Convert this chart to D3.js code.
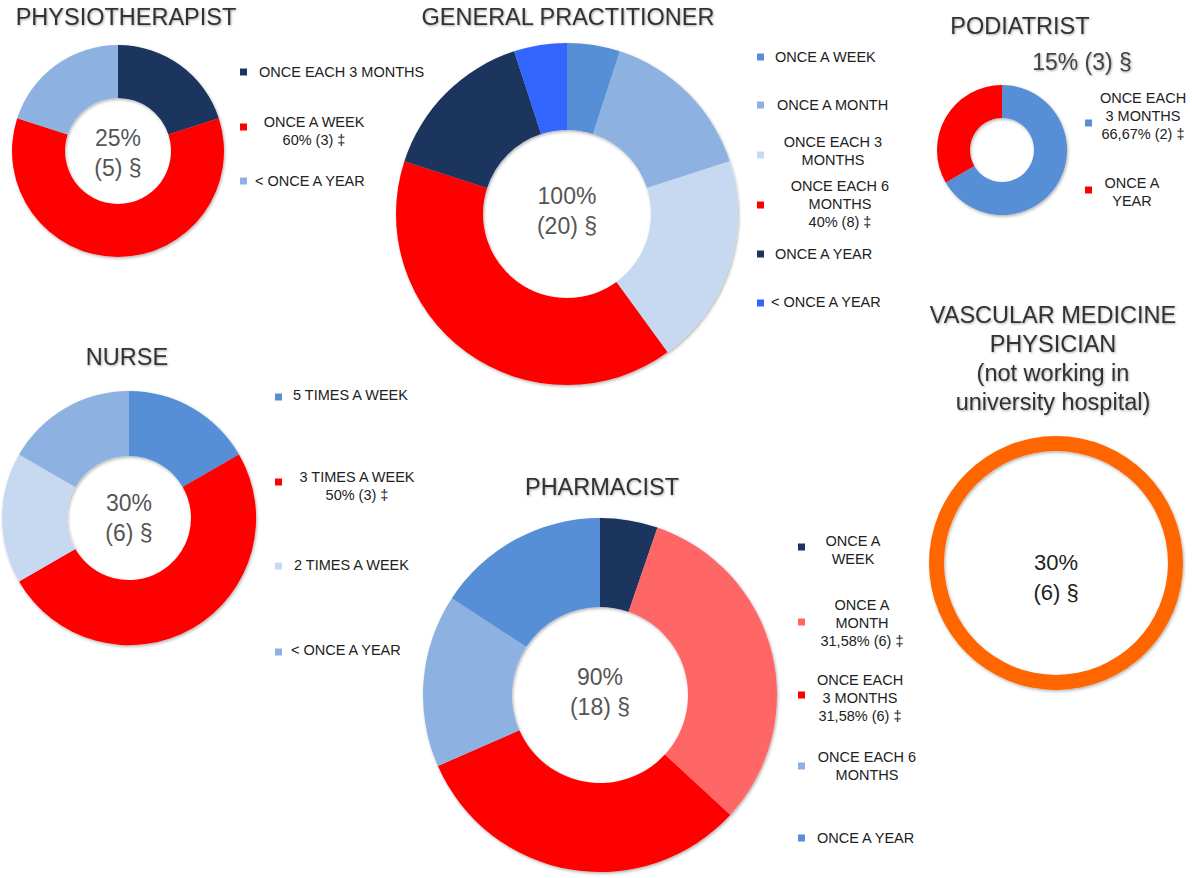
<!DOCTYPE html>
<html>
<head>
<meta charset="utf-8">
<script src="https://cdn.jsdelivr.net/npm/d3@7"></script>
<style>
body { margin: 0; background: #fff; }
svg { display: block; font-family: "Liberation Sans", Arial, Helvetica, sans-serif; }
</style>
</head>
<body>
<svg id="chart" width="1192" height="878"></svg>
<script>
// survey: 20 respondents in total
const totalRespondents = 20;
const professions = ["PHYSIOTHERAPIST", "GENERAL PRACTITIONER", "PODIATRIST", "NURSE", "PHARMACIST",
                     "VASCULAR MEDICINE\nPHYSICIAN\n(not working in\nuniversity hospital)"];
const respondents = [5, 20, 3, 6, 18, 6];

const physioLabels = ["ONCE EACH 3 MONTHS", "ONCE A WEEK", "< ONCE A YEAR"];
const physioCounts = [1, 3, 1];
const physioMain   = [false, true, false];

const gpLabels = ["ONCE A WEEK", "ONCE A MONTH", "ONCE EACH 3\nMONTHS", "ONCE EACH 6\nMONTHS", "ONCE A YEAR", "< ONCE A YEAR"];
const gpCounts = [1, 3, 4, 8, 3, 1];
const gpMain   = [false, false, false, true, false, false];

const podoLabels = ["ONCE EACH\n3 MONTHS", "ONCE A\nYEAR"];
const podoCounts = [2, 1];
const podoMain   = [true, false];

const nurseLabels = ["5 TIMES A WEEK", "3 TIMES A WEEK", "2 TIMES A WEEK", "< ONCE A YEAR"];
const nurseCounts = [1, 3, 1, 1];
const nurseMain   = [false, true, false, false];

const pharmaLabels = ["ONCE A\nWEEK", "ONCE A\nMONTH", "ONCE EACH\n3 MONTHS", "ONCE EACH 6\nMONTHS", "ONCE A YEAR"];
const pharmaCounts = [1, 6, 6, 3, 3];
const pharmaMain   = [false, true, true, false, false];

const vascLabels = [];
const vascCounts = [6];
const vascMain   = [];

const NAVY = "#1b365e", RED = "#ff0000", LIGHT = "#8db2e1", MED = "#568fd5",
      VLIGHT = "#c6d9f1", BRIGHT = "#3366ff", SALMON = "#ff6666", ORANGE = "#ff6600";

const charts = [
  {labels: physioLabels, counts: physioCounts, main: physioMain},
  {labels: gpLabels, counts: gpCounts, main: gpMain},
  {labels: podoLabels, counts: podoCounts, main: podoMain},
  {labels: nurseLabels, counts: nurseCounts, main: nurseMain},
  {labels: pharmaLabels, counts: pharmaCounts, main: pharmaMain},
  {labels: vascLabels, counts: vascCounts, main: vascMain}
];

// layout of each panel
const layouts = [
  {cx: 118, cy: 151, r: 106, ir: 53, colors: [NAVY, RED, LIGHT],
   title: {x: 126, y: 25}, center: {y: 138, single: false},
   sqx: 240, legend: [{sy: 72, a: "start", x: 259, y: 72}, {sy: 127, a: "middle", x: 314, y: 122}, {sy: 181, a: "start", x: 255, y: 181}]},
  {cx: 567, cy: 214, r: 171, ir: 84, colors: [MED, LIGHT, VLIGHT, RED, NAVY, BRIGHT],
   title: {x: 568, y: 25}, center: {y: 196, single: false},
   sqx: 757, legend: [{sy: 57, a: "start", x: 775, y: 57}, {sy: 105, a: "start", x: 777, y: 105},
                      {sy: 155, a: "middle", x: 833, y: 142}, {sy: 205, a: "middle", x: 840, y: 186},
                      {sy: 254, a: "start", x: 775, y: 254}, {sy: 303, a: "start", x: 771, y: 302}]},
  {cx: 1002, cy: 150, r: 65, ir: 32, colors: [MED, RED],
   title: {x: 1020, y: 34}, center: {x: 1082, y: 62, single: true},
   sqx: 1085, legend: [{sy: 123, a: "middle", x: 1143, y: 98}, {sy: 190, a: "middle", x: 1132, y: 183}]},
  {cx: 129, cy: 518, r: 127, ir: 62, colors: [MED, RED, VLIGHT, LIGHT],
   title: {x: 127, y: 365}, center: {y: 503, single: false},
   sqx: 275, legend: [{sy: 397, a: "start", x: 293, y: 395}, {sy: 482, a: "middle", x: 357, y: 477},
                      {sy: 566, a: "start", x: 294, y: 565}, {sy: 652, a: "start", x: 291, y: 650}]},
  {cx: 600, cy: 695, r: 177, ir: 88, colors: [NAVY, SALMON, RED, LIGHT, MED],
   title: {x: 602, y: 495}, center: {y: 677, single: false},
   sqx: 798, legend: [{sy: 547, a: "middle", x: 853, y: 541}, {sy: 622, a: "middle", x: 862, y: 605},
                      {sy: 695, a: "middle", x: 860, y: 680}, {sy: 766, a: "middle", x: 867, y: 757},
                      {sy: 838, a: "start", x: 817, y: 838}]},
  {cx: 1056, cy: 563, r: 127, ir: 112, colors: [ORANGE],
   title: {x: 1053, y: 323}, center: {y: 562, single: false, dark: true},
   sqx: 0, legend: []}
];

const svg = d3.select("#chart");
const defs = svg.append("defs");
defs.append("filter").attr("id", "shadow").attr("x", "-10%").attr("y", "-10%").attr("width", "120%").attr("height", "120%")
  .append("feDropShadow").attr("dx", 1).attr("dy", 1.5).attr("stdDeviation", 1.5)
  .attr("flood-color", "#000").attr("flood-opacity", 0.3);
defs.append("filter").attr("id", "tshadow")
  .append("feDropShadow").attr("dx", 0.8).attr("dy", 1).attr("stdDeviation", 0.8)
  .attr("flood-color", "#000").attr("flood-opacity", 0.35);

const pctFmt = d3.format(".4~r");
const pie = d3.pie().sort(null).value(d => d);

charts.forEach((c, i) => {
  const L = layouts[i];
  const g = svg.append("g");
  const arc = d3.arc().innerRadius(L.ir).outerRadius(L.r);

  g.append("g")
    .attr("transform", `translate(${L.cx},${L.cy})`)
    .attr("filter", "url(#shadow)")
    .selectAll("path")
    .data(pie(c.counts))
    .join("path")
    .attr("d", arc)
    .attr("fill", (d, j) => L.colors[j]);

  // title
  const tLines = professions[i].split("\n");
  g.append("text")
    .attr("text-anchor", "middle")
    .attr("font-size", 23.5)
    .attr("fill", "#333")
    .attr("filter", "url(#tshadow)")
    .selectAll("tspan")
    .data(tLines)
    .join("tspan")
    .attr("x", L.title.x)
    .attr("y", (d, j) => L.title.y + j * 29)
    .text(d => d);

  // centre text
  const pct = Math.round(respondents[i] / totalRespondents * 100) + "%";
  const cnt = `(${respondents[i]}) §`;
  if (L.center.single) {
    g.append("text")
      .attr("x", L.center.x).attr("y", L.center.y)
      .attr("text-anchor", "middle").attr("dominant-baseline", "central")
      .attr("font-size", 23).attr("fill", "#444")
      .attr("filter", "url(#tshadow)")
      .text(`${pct} ${cnt}`);
  } else {
    g.append("text")
      .attr("text-anchor", "middle").attr("dominant-baseline", "central")
      .attr("font-size", L.center.dark ? 22 : 23)
      .attr("fill", L.center.dark ? "#222" : "#555")
      .selectAll("tspan")
      .data([pct, cnt])
      .join("tspan")
      .attr("x", L.cx)
      .attr("y", (d, j) => L.center.y + j * 30)
      .text(d => d);
  }

  // legend
  const total = d3.sum(c.counts);
  const leg = g.selectAll(".leg")
    .data(c.labels.map((lab, j) => {
      const lines = lab.split("\n");
      if (c.main[j]) lines.push(`${pctFmt(c.counts[j] / total * 100).replace(".", ",")}% (${c.counts[j]}) ‡`);
      return {lines: lines, color: L.colors[j], pos: L.legend[j]};
    }))
    .join("g")
    .attr("class", "leg");

  leg.append("rect")
    .attr("x", L.sqx)
    .attr("y", d => d.pos.sy - 3.5)
    .attr("width", 7).attr("height", 7)
    .attr("fill", d => d.color);

  leg.append("text")
    .attr("text-anchor", d => d.pos.a)
    .attr("dominant-baseline", "central")
    .attr("font-size", 14.5)
    .attr("fill", "#222")
    .each(function(d) {
      d3.select(this).selectAll("tspan")
        .data(d.lines)
        .join("tspan")
        .attr("x", d.pos.x)
        .attr("y", (s, k) => d.pos.y + k * 18)
        .text(s => s);
    });
});
</script>
</body>
</html>
